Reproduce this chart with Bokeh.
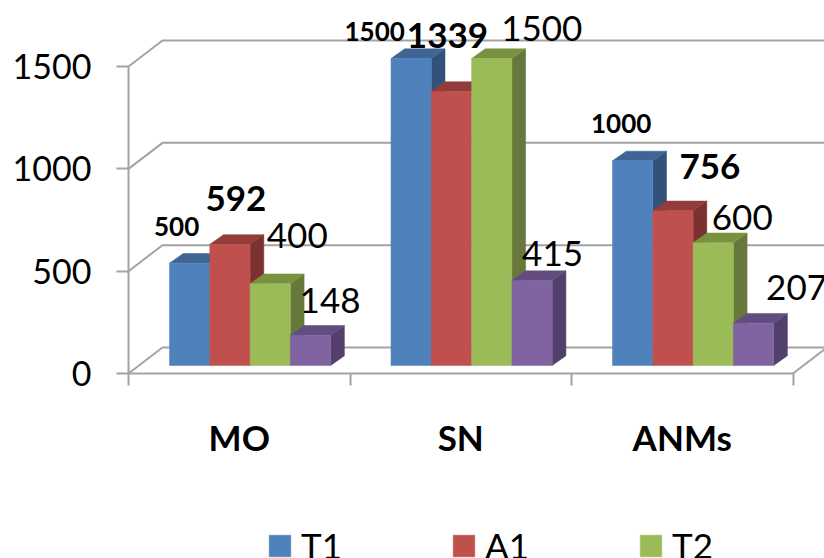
from bokeh.core.properties import value
from bokeh.embed import file_html
from bokeh.models import FixedTicker, Legend, LegendItem, Range1d
from bokeh.plotting import figure
from bokeh.resources import INLINE

# Chart values
categories = ["MO", "SN", "ANMs"]
series_names = ["T1", "A1", "T2", "S4"]
t1 = [500, 1500, 1000]
a1 = [592, 1339, 756]
t2 = [400, 1500, 600]
s4 = [148, 415, 207]
y_ticks = [0, 500, 1000, 1500]

# Face colours for each series
front_colors = ["#4F81BD", "#C0504D", "#9BBB59", "#8064A2"]
top_colors = ["#3E6594", "#943C3A", "#78923F", "#634D80"]
side_colors = ["#33527A", "#7A312F", "#66793A", "#533F6C"]

# Label styling per series
label_sizes = ["26px", "35px", "35px", "35px"]
label_styles = ["bold", "bold", "normal", "normal"]
# Pixel offsets of each value label from its bar's top centre
label_dx = [[-13, -36.5, -11.5], [6, -4, 37], [27, 50, 29], [19.5, 20.5, 43]]
label_dy = [[-36.7, -27.5, -37.5], [-46, -56, -44], [-48, -30, -25], [-34.7, -27, -35.6]]

# Projection constants, in pixels
WIDTH, HEIGHT = 824, 558
ORIGIN_X, ORIGIN_Y = 128, 373
CAT_PX = 221.5
PX_PER_UNIT = 102.33 / 500
WALL_DX, WALL_DY = 34, 26
BAR_DX, BAR_DY = 13.7, 9.7
BASE_LIFT = 8
BAR_W = 40.3
GROUP_LEFT = 41
FONT = "Lato"
AXIS_GRAY = "#A3A3A3"

ux = 1 / CAT_PX
uy = 1 / PX_PER_UNIT

# The frame fills the page; the axes are pinned at the origin inside it
p = figure(
    width=WIDTH, height=HEIGHT, frame_width=WIDTH, frame_height=HEIGHT,
    min_border=0,
    output_backend="svg", toolbar_location=None,
    x_range=Range1d(-ORIGIN_X * ux, (WIDTH - ORIGIN_X) * ux),
    y_range=Range1d(-(HEIGHT - ORIGIN_Y) * uy, ORIGIN_Y * uy),
    background_fill_color="white", border_fill_color="white",
)
p.outline_line_color = None
p.grid.visible = False

# Value axis
p.yaxis.fixed_location = 0
p.yaxis.ticker = FixedTicker(ticks=y_ticks)
p.yaxis.bounds = (0, 1500)
p.yaxis.axis_line_color = AXIS_GRAY
p.yaxis.axis_line_width = 2
p.yaxis.major_tick_line_color = AXIS_GRAY
p.yaxis.major_tick_line_width = 2
p.yaxis.major_tick_in = 0
p.yaxis.major_tick_out = 12
p.yaxis.minor_tick_line_color = None
p.yaxis.major_label_standoff = 25
p.yaxis.major_label_text_font = FONT
p.yaxis.major_label_text_font_size = "34px"
p.yaxis.major_label_text_color = "black"

# Category axis: labels at group centres, ticks at group boundaries
centers = [i + 0.5 for i in range(len(categories))]
p.xaxis.fixed_location = 0
p.xaxis.ticker = FixedTicker(ticks=centers, minor_ticks=list(range(len(categories) + 1)))
p.xaxis.major_label_overrides = dict(zip(centers, categories))
p.xaxis.bounds = (0, len(categories))
p.xaxis.axis_line_color = AXIS_GRAY
p.xaxis.axis_line_width = 2
p.xaxis.major_tick_line_color = None
p.xaxis.major_tick_out = 0
p.xaxis.major_tick_in = 0
p.xaxis.minor_tick_line_color = AXIS_GRAY
p.xaxis.minor_tick_line_width = 2
p.xaxis.minor_tick_in = 0
p.xaxis.minor_tick_out = 12
p.xaxis.major_label_standoff = 30
p.xaxis.major_label_text_font = FONT
p.xaxis.major_label_text_font_style = "bold"
p.xaxis.major_label_text_font_size = "35px"
p.xaxis.major_label_text_color = "black"

# Back wall gridlines and the floor
n = len(categories)
wall_x = WALL_DX * ux
wall_y = WALL_DY * uy
far_x = (WIDTH - ORIGIN_X) * ux
wall_xs = [[0, wall_x, far_x] for _ in y_ticks]
wall_ys = [[v, v + wall_y, v + wall_y] for v in y_ticks]
wall_xs.append([n, n + wall_x])
wall_ys.append([0, wall_y])
p.multi_line(wall_xs, wall_ys, line_color=AXIS_GRAY, line_width=2)

# Bars, painted left to right so that each one overlaps its neighbour's side
all_series = [t1, a1, t2, s4]
bar_w = BAR_W * ux
dx, dy = BAR_DX * ux, BAR_DY * uy
base = BASE_LIFT * uy
legend_items = []
for j, vals in enumerate(all_series):
    lefts = [i + GROUP_LEFT * ux + j * bar_w for i in range(n)]
    rights = [x + bar_w for x in lefts]
    tops = [base + v for v in vals]
    p.patches(
        [[r, r + dx, r + dx, r] for r in rights],
        [[base, base + dy, t + dy, t] for t in tops],
        fill_color=side_colors[j], line_color=side_colors[j], line_width=0.5,
    )
    p.patches(
        [[l, l + dx, r + dx, r] for l, r in zip(lefts, rights)],
        [[t, t + dy, t + dy, t] for t in tops],
        fill_color=top_colors[j], line_color=top_colors[j], line_width=0.5,
    )
    front = p.quad(
        left=lefts, right=rights, bottom=[base] * n, top=tops,
        fill_color=front_colors[j], line_color=front_colors[j], line_width=0.5,
    )
    if j < 3:
        legend_items.append(LegendItem(label=series_names[j], renderers=[front]))

    p.text(
        x=[(l + r) / 2 for l, r in zip(lefts, rights)], y=tops, text=[str(v) for v in vals],
        x_offset=label_dx[j], y_offset=label_dy[j],
        text_align="center", text_baseline="middle", text_color="black",
        text_font=value(FONT), text_font_size=value(label_sizes[j]),
        text_font_style=label_styles[j],
    )

legend = Legend(
    items=legend_items, orientation="horizontal", location=(266, -8),
    background_fill_alpha=0, border_line_color=None, padding=0, margin=0,
    glyph_width=27, glyph_height=27, label_standoff=8, spacing=108,
    label_height=27, label_text_line_height=1.0,
    label_text_font=FONT, label_text_font_size="35px", label_text_color="black",
)
p.add_layout(legend, "center")

open("out.html", "w").write(file_html(p, INLINE))
